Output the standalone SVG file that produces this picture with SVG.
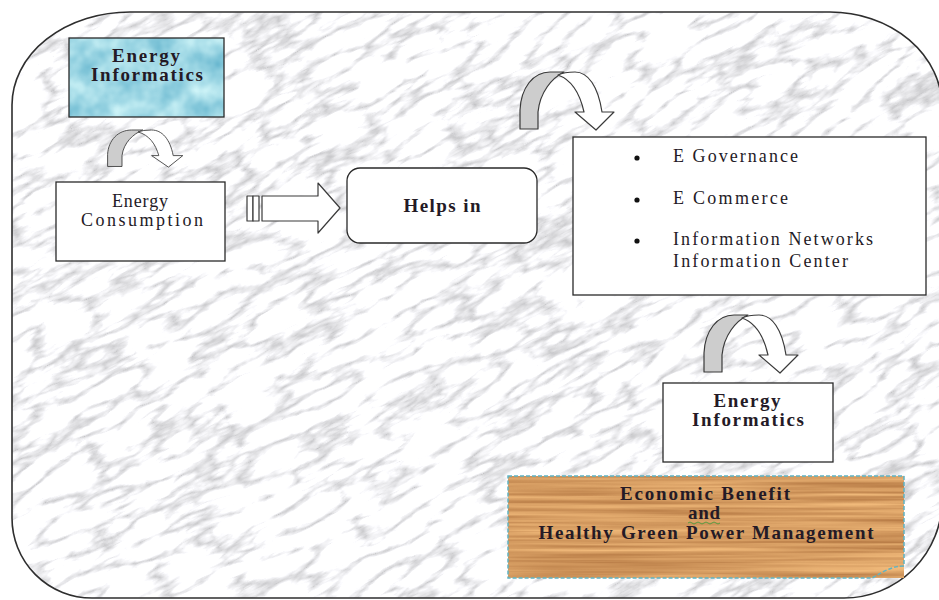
<svg xmlns="http://www.w3.org/2000/svg" width="939" height="600" viewBox="0 0 939 600">
<style>
.box{stroke:#2a2a2a;stroke-width:1.3}
.white{fill:#ffffff}
.t{font-family:"Liberation Serif","Times New Roman",serif;fill:#241a26;text-anchor:middle}
.tl{font-family:"Liberation Serif","Times New Roman",serif;fill:#241a26}
.b{font-weight:bold}
.arrowgrey{fill:#cdcdcd;stroke:#3a3a3a;stroke-width:1.2;stroke-linejoin:round}
.arrowwhite{fill:#ffffff;stroke:#3a3a3a;stroke-width:1.2;stroke-linejoin:round}
</style>
<defs>
<filter id="marble" x="0" y="0" width="1" height="1" filterUnits="objectBoundingBox" color-interpolation-filters="sRGB">
<feTurbulence type="turbulence" baseFrequency="0.015 0.05" numOctaves="4" seed="7"/>
<feColorMatrix type="matrix" values="0.8 0 0 0 0.77  0.8 0 0 0 0.77  0.8 0 0 0 0.78  0 0 0 0 1"/>
</filter>
<filter id="wood" x="0" y="0" width="1" height="1" filterUnits="objectBoundingBox" color-interpolation-filters="sRGB">
<feTurbulence type="fractalNoise" baseFrequency="0.004 0.25" numOctaves="3" seed="3"/>
<feColorMatrix type="matrix" values="0.35 0 0 0 0.66  0.38 0 0 0 0.42  0.32 0 0 0 0.22  0 0 0 0 1"/>
</filter>
<filter id="water" x="0" y="0" width="1" height="1" filterUnits="objectBoundingBox" color-interpolation-filters="sRGB">
<feTurbulence type="fractalNoise" baseFrequency="0.04" numOctaves="3" seed="11"/>
<feColorMatrix type="matrix" values="0.5 0 0 0 0.38  0.3 0 0 0 0.7  0.2 0 0 0 0.8  0 0 0 0 1"/>
</filter>
<clipPath id="outline">
<path d="M12,105 A118,93 0 0 1 130,12 L830,12 A112,95 0 0 1 942,107 L942,500 A98,98 0 0 1 844,598 L92,598 A80,80 0 0 1 12,518 Z"/>
</clipPath>
<g id="uturn">
<path class="arrowgrey" d="M2,57 L2,38 C3,16 15,0 32,0 L46,0 C34,6 22,20 20,40 L20,57 Z"/>
<path class="arrowwhite" d="M40,3 Q46,0 57,0 C70,0 80,14 84,40 L96,40 L78,58 L57,40 L66,40 C62,22 54,8 40,3 Z"/>
</g>
</defs>

<rect x="0" y="0" width="939" height="600" fill="#ffffff"/>

<g id="background">
<g clip-path="url(#outline)">
<rect x="0" y="0" width="939" height="600" fill="#ececec"/>
<rect x="-300" y="-300" width="1540" height="1200" filter="url(#marble)" transform="rotate(-28 470 300)"/>
</g>
<path d="M12,105 A118,93 0 0 1 130,12 L830,12 A112,95 0 0 1 942,107 L942,500 A98,98 0 0 1 844,598 L92,598 A80,80 0 0 1 12,518 Z" fill="none" stroke="#2e2e2e" stroke-width="1.6"/>
</g>

<g id="connectors">
<g id="arrow-block">
<rect x="247" y="196" width="6" height="25" class="arrowwhite"/>
<rect x="253" y="196" width="6" height="25" class="arrowwhite"/>
<path class="arrowwhite" d="M262,196 L318,196 L318,183 L340,208 L318,233 L318,221 L262,221 Z"/>
</g>
<use href="#uturn" transform="translate(106,130) scale(0.8,0.64)"/>
<use href="#uturn" transform="translate(518,72)"/>
<use href="#uturn" transform="translate(702,315)"/>
</g>

<g id="node-energy-informatics-top">
<rect x="69" y="38" width="155" height="79" fill="#a9dde9" filter="url(#water)"/>
<rect x="69" y="38" width="155" height="79" fill="none" class="box"/>
<text class="t b" x="146" y="62" font-size="19" textLength="68" lengthAdjust="spacing">Energy</text>
<text class="t b" x="147" y="81" font-size="19" textLength="112" lengthAdjust="spacing">Informatics</text>
</g>

<g id="node-energy-consumption">
<rect x="56" y="182" width="169" height="79" class="box white"/>
<text class="t" x="140" y="207" font-size="18" textLength="56" lengthAdjust="spacing">Energy</text>
<text class="t" x="142" y="226" font-size="18" textLength="122" lengthAdjust="spacing">Consumption</text>
</g>

<g id="node-helps-in">
<rect x="347" y="168" width="190" height="75" rx="13" ry="13" class="box white"/>
<text class="t b" x="442" y="212" font-size="19" textLength="77" lengthAdjust="spacing">Helps in</text>
</g>

<g id="node-list">
<rect x="573" y="137" width="353" height="158" class="box white"/>
<circle cx="637" cy="158" r="2.6" fill="#111"/>
<circle cx="637" cy="200" r="2.6" fill="#111"/>
<circle cx="637" cy="241" r="2.6" fill="#111"/>
<text class="tl" x="673" y="162" font-size="18" textLength="125" lengthAdjust="spacing">E Governance</text>
<text class="tl" x="673" y="204" font-size="18" textLength="115" lengthAdjust="spacing">E Commerce</text>
<text class="tl" x="673" y="245" font-size="18" textLength="200" lengthAdjust="spacing">Information Networks</text>
<text class="tl" x="673" y="267" font-size="18" textLength="175" lengthAdjust="spacing">Information Center</text>
</g>

<g id="node-energy-informatics-bottom">
<rect x="663" y="383" width="170" height="79" class="box white"/>
<text class="t b" x="747" y="407" font-size="19" textLength="67" lengthAdjust="spacing">Energy</text>
<text class="t b" x="748" y="426" font-size="19" textLength="112" lengthAdjust="spacing">Informatics</text>
</g>

<g id="node-economic-benefit">
<path d="M508,476 L904,476 L904,566 C890,566 880,574 872,578 L508,578 Z" fill="#c98b50" filter="url(#wood)"/>
<path d="M508,476 L904,476 L904,566 C890,566 880,574 872,578 L508,578 Z" fill="none" stroke="#5fb3c2" stroke-width="1.5" stroke-dasharray="4 2"/>
<text class="t b" x="705" y="500" font-size="19" textLength="170" lengthAdjust="spacing">Economic Benefit</text>
<text class="t b" x="704" y="519" font-size="19" textLength="32" lengthAdjust="spacing">and</text>
<path d="M688,523 q2,-2 4,0 t4,0 t4,0 t4,0 t4,0 t4,0 t4,0 t4,0" fill="none" stroke="#3a9a3a" stroke-width="0.8"/>
<text class="t b" x="706" y="539" font-size="19" textLength="335" lengthAdjust="spacing">Healthy Green Power Management</text>
</g>
</svg>
